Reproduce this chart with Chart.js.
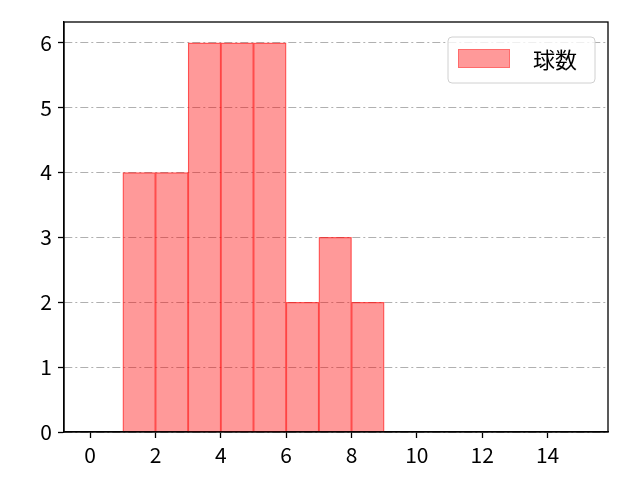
<!DOCTYPE html>
<html>
<head>
<meta charset="utf-8">
<script src="https://cdn.jsdelivr.net/npm/chart.js@4/dist/chart.umd.min.js"></script>
<style>
  html, body { margin: 0; padding: 0; background: #fff; }
  #wrap { width: 640px; height: 480px; }
</style>
</head>
<body>
<div id="wrap"><canvas id="histChart" width="640" height="480"></canvas></div>
<script>
// histogram bins (centres of width-1 bins) and counts
const binCenters = [1.5, 2.5, 3.5, 4.5, 5.5, 6.5, 7.5, 8.5];
const counts = [4, 4, 6, 6, 6, 2, 3, 2];
const xTicks = [0, 2, 4, 6, 8, 10, 12, 14];
const yTicks = [0, 1, 2, 3, 4, 5, 6];
const seriesLabel = '球数';

const FONT = "'Noto Sans CJK JP', 'DejaVu Sans', sans-serif";

// frame around the plot + legend box in the upper right
const framePlugin = {
    id: 'frame',
    afterDraw(chart) {
        const { ctx, chartArea: a } = chart;
        ctx.save();
        ctx.strokeStyle = '#000';
        ctx.lineWidth = 1.3;
        ctx.strokeRect(a.left, a.top, a.right - a.left, a.bottom - a.top);

        // legend
        const bx = a.right - 160, by = a.top + 15, bw = 147, bh = 46;
        ctx.fillStyle = 'rgba(255,255,255,0.8)';
        ctx.strokeStyle = '#d0d0d0';
        ctx.lineWidth = 1;
        ctx.beginPath();
        ctx.roundRect(bx, by, bw, bh, 4);
        ctx.fill();
        ctx.stroke();
        ctx.fillStyle = 'rgba(255,0,0,0.4)';
        ctx.fillRect(bx + 10, by + 12, 52, 19);
        ctx.strokeStyle = 'rgba(255,0,0,0.3)';
        ctx.strokeRect(bx + 10.5, by + 12.5, 51, 18);
        ctx.fillStyle = '#000';
        ctx.font = '22px ' + FONT;
        ctx.textBaseline = 'middle';
        ctx.fillText(chart.data.datasets[0].label, bx + 85, by + 23);
        ctx.restore();
    }
};

const ctx = document.getElementById('histChart').getContext('2d');
new Chart(ctx, {
    type: 'bar',
    data: {
        datasets: [{
            label: seriesLabel,
            data: binCenters.map((c, i) => ({ x: c, y: counts[i] })),
            backgroundColor: 'rgba(255, 0, 0, 0.4)',
            borderColor: 'rgba(255, 0, 0, 0.6)',
            borderWidth: 0.6,
            borderSkipped: 'bottom',
            barPercentage: 1,
            categoryPercentage: 1
        }]
    },
    options: {
        responsive: false,
        animation: false,
        devicePixelRatio: 1,
        layout: { padding: { left: 0, top: 22, right: 32, bottom: 0 } },
        plugins: {
            legend: { display: false },
            tooltip: { enabled: false }
        },
        scales: {
            x: {
                type: 'linear',
                min: -0.8,
                max: 15.85,
                offset: false,
                afterBuildTicks: scale => { scale.ticks = xTicks.map(v => ({ value: v })); },
                afterFit: scale => { scale.height = 48; },
                ticks: {
                    color: '#000',
                    font: { family: FONT, size: 21 },
                    padding: 4,
                    maxRotation: 0
                },
                grid: {
                    offset: false,
                    drawOnChartArea: false,
                    tickLength: 6,
                    tickColor: '#000',
                    tickWidth: 1.3
                },
                border: { color: '#000', width: 1.3 }
            },
            y: {
                min: 0,
                max: 6.32,
                z: 1,
                afterBuildTicks: scale => { scale.ticks = yTicks.map(v => ({ value: v })); },
                afterFit: scale => { scale.width = 64; },
                ticks: {
                    color: '#000',
                    font: { family: FONT, size: 21 },
                    padding: 6
                },
                grid: {
                    color: '#b0b0b0',
                    lineWidth: 1,
                    tickLength: 6,
                    tickColor: '#000',
                    tickWidth: 1.3
                },
                border: { color: '#000', width: 1.3, dash: [8, 3, 2, 3] }
            }
        }
    },
    plugins: [framePlugin]
});
</script>
</body>
</html>
